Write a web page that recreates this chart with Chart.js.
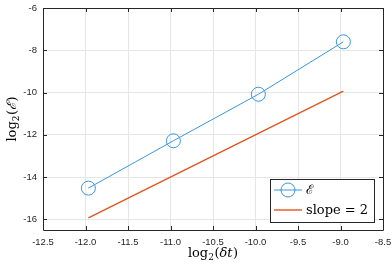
<!DOCTYPE html>
<html>
<head>
<meta charset="utf-8">
<script src="https://cdn.jsdelivr.net/npm/chart.js@4.4.1/dist/chart.umd.min.js"></script>
<style>
  html, body { margin: 0; padding: 0; background: #fff; }
  #wrap { width: 392px; height: 267px; }
</style>
</head>
<body>
<div id="wrap"><canvas id="c" width="392" height="267"></canvas></div>
<script>
// log2(dt) and log2(error)
const dtLog = [-11.966, -10.966, -9.966, -8.966];
const errLog = [-14.52, -12.28, -10.08, -7.60];
// reference line of slope 2
const slopeX = [-11.966, -8.966];
const slopeY = [-15.93, -9.93];

const xTicks = [-12.5, -12, -11.5, -11, -10.5, -10, -9.5, -9, -8.5];
const yTicks = [-16, -14, -12, -10, -8, -6];

const blue = '#3a96dc';
const orange = '#e0561e';
const axisCol = '#262626';
const serif = '"DejaVu Serif", serif';

// axis box, inward ticks, axis labels and legend
const decor = {
  id: 'decor',
  afterDraw(chart) {
    const ctx = chart.ctx;
    const a = chart.chartArea;
    const xs = chart.scales.x, ys = chart.scales.y;
    ctx.save();
    ctx.strokeStyle = axisCol;
    ctx.lineWidth = 1;
    ctx.beginPath();
    ctx.rect(Math.round(a.left) + 0.5, Math.round(a.top) + 0.5, Math.round(a.right - a.left), Math.round(a.bottom - a.top));
    ctx.stroke();
    const tl = 4;
    ctx.beginPath();
    xTicks.forEach(v => {
      const px = Math.round(xs.getPixelForValue(v)) + 0.5;
      ctx.moveTo(px, a.bottom); ctx.lineTo(px, a.bottom - tl);
      ctx.moveTo(px, a.top); ctx.lineTo(px, a.top + tl);
    });
    yTicks.forEach(v => {
      const py = Math.round(ys.getPixelForValue(v)) + 0.5;
      ctx.moveTo(a.left, py); ctx.lineTo(a.left + tl, py);
      ctx.moveTo(a.right, py); ctx.lineTo(a.right - tl, py);
    });
    ctx.stroke();

    // axis labels: log, subscript 2, then italic math part
    ctx.fillStyle = '#000';
    const drawLog = (x, y, inner) => {
      const big = '13px ' + serif;
      const ital = 'italic 13px ' + serif;
      const small = '9px ' + serif;
      ctx.font = big; const w1 = ctx.measureText('log(').width - ctx.measureText('(').width;
      const wp = ctx.measureText('(').width;
      ctx.font = small; const w2 = ctx.measureText('2').width;
      ctx.font = ital; const w3 = ctx.measureText(inner).width;
      const total = w1 + w2 + 2 * wp + w3 + 1;
      let x0 = x - total / 2;
      ctx.textAlign = 'left';
      ctx.textBaseline = 'alphabetic';
      ctx.font = big; ctx.fillText('log', x0, y);
      x0 += w1;
      ctx.font = small; ctx.fillText('2', x0, y + 3);
      x0 += w2 + 0.5;
      ctx.font = big; ctx.fillText('(', x0, y);
      x0 += wp;
      ctx.font = ital; ctx.fillText(inner, x0, y);
      x0 += w3 + 0.5;
      ctx.font = big; ctx.fillText(')', x0, y);
    };
    drawLog((a.left + a.right) / 2, 257, 'δt');
    ctx.save();
    ctx.translate(16, (a.top + a.bottom) / 2);
    ctx.rotate(-Math.PI / 2);
    drawLog(0, 0, 'ℰ');
    ctx.restore();

    // legend
    const lx = 270.5, ly = 179.5, lw = 104, lh = 43;
    ctx.fillStyle = '#fff';
    ctx.fillRect(lx, ly, lw, lh);
    ctx.strokeStyle = axisCol;
    ctx.strokeRect(lx, ly, lw, lh);
    const ds = chart.data.datasets;
    const rows = [190, 210];
    ds.forEach((d, i) => {
      const y = rows[i];
      ctx.strokeStyle = d.borderColor;
      ctx.lineWidth = d.borderWidth;
      ctx.beginPath(); ctx.moveTo(274, y); ctx.lineTo(302, y); ctx.stroke();
      if (d.pointRadius > 0) {
        ctx.lineWidth = 1;
        ctx.beginPath(); ctx.arc(288, y, d.pointRadius, 0, Math.PI * 2); ctx.stroke();
      }
      ctx.fillStyle = '#000';
      ctx.font = '13px ' + serif;
      ctx.textAlign = 'left';
      ctx.textBaseline = 'middle';
      ctx.fillText(d.label, 306, y + 1);
    });
    ctx.restore();
  }
};

new Chart(document.getElementById('c'), {
  type: 'scatter',
  data: {
    datasets: [
      {
        label: 'ℰ',
        data: dtLog.map((x, i) => ({ x: x, y: errLog[i] })),
        showLine: true,
        borderColor: blue,
        backgroundColor: 'rgba(0,0,0,0)',
        borderWidth: 1,
        pointRadius: 7,
        pointBorderWidth: 1,
        pointBorderColor: blue,
        pointBackgroundColor: 'rgba(0,0,0,0)'
      },
      {
        label: 'slope = 2',
        data: slopeX.map((x, i) => ({ x: x, y: slopeY[i] })),
        showLine: true,
        borderColor: orange,
        borderWidth: 1.4,
        pointRadius: 0
      }
    ]
  },
  options: {
    responsive: false,
    animation: false,
    layout: { padding: { left: 0, right: 9, top: 5, bottom: 0 } },
    plugins: { legend: { display: false }, tooltip: { enabled: false } },
    scales: {
      x: {
        type: 'linear',
        min: -12.5, max: -8.5,
        afterBuildTicks: s => { s.ticks = xTicks.map(v => ({ value: v })); },
        afterFit: s => { s.height = 37; s.paddingLeft = 0; s.paddingRight = 0; },
        grid: { color: '#e6e6e6', drawTicks: false },
        border: { display: false },
        ticks: { color: axisCol, padding: 7, maxRotation: 0, font: { family: '"Liberation Sans", Arial, sans-serif', size: 9.5 } }
      },
      y: {
        type: 'linear',
        min: -16.5, max: -6,
        afterBuildTicks: s => { s.ticks = yTicks.map(v => ({ value: v })); },
        afterFit: s => { s.width = 43; s.paddingTop = 0; s.paddingBottom = 0; },
        grid: { color: '#e6e6e6', drawTicks: false },
        border: { display: false },
        ticks: { color: axisCol, padding: 6, font: { family: '"Liberation Sans", Arial, sans-serif', size: 9.5 } }
      }
    }
  },
  plugins: [decor]
});
</script>
</body>
</html>
